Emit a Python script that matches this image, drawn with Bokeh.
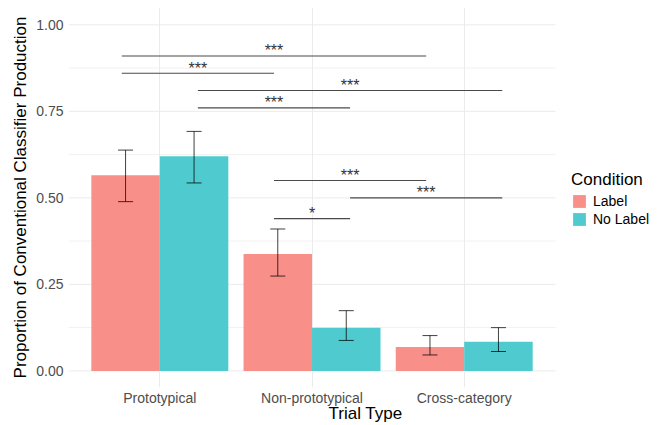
from bokeh.plotting import figure
from bokeh.models import (ColumnDataSource, Range1d, FixedTicker, Whisker, TeeHead,
                          Legend, LegendItem)
from bokeh.embed import file_html
from bokeh.resources import INLINE
from bokeh.core.properties import value

# ---- data ----
categories = ["Prototypical", "Non-prototypical", "Cross-category"]
conditions = ["Label", "No Label"]
label_mean = [0.565, 0.338, 0.069]
label_lower = [0.489, 0.274, 0.046]
label_upper = [0.638, 0.410, 0.102]
nolabel_mean = [0.620, 0.125, 0.084]
nolabel_lower = [0.543, 0.088, 0.056]
nolabel_upper = [0.692, 0.174, 0.125]
y_ticks = [0.0, 0.25, 0.5, 0.75, 1.0]
y_minor = [0.125, 0.375, 0.625, 0.875]
y_tick_labels = ["0.00", "0.25", "0.50", "0.75", "1.00"]

# significance comparisons: (category, condition) -> (category, condition)
sig_from_cat = ["Prototypical", "Prototypical", "Prototypical", "Prototypical",
                "Non-prototypical", "Non-prototypical", "Non-prototypical"]
sig_from_cond = ["Label", "Label", "No Label", "No Label", "Label", "No Label", "Label"]
sig_to_cat = ["Cross-category", "Non-prototypical", "Cross-category", "Non-prototypical",
              "Cross-category", "Cross-category", "Non-prototypical"]
sig_to_cond = ["Label", "Label", "No Label", "No Label", "Label", "No Label", "No Label"]
sig_y = [0.91, 0.86, 0.81, 0.76, 0.55, 0.50, 0.44]
sig_label = ["***", "***", "***", "***", "***", "***", "*"]

colors = {"Label": "#F98F89", "No Label": "#4FCBCF"}
bar_w = 0.45
sig_off = 0.25
x_lo, x_hi = 0.4, 3.6          # panel extent in category units
px_per_unit = 152.2            # horizontal scale of the panel
frame_left, frame_w = 68, 594  # frame reaches the right edge to host the legend

pos = [i + 1 for i in range(len(categories))]
cat_pos = dict(zip(categories, pos))
cond_off = {"Label": -1, "No Label": 1}

src_l = ColumnDataSource(dict(x=[p_ - bar_w / 2 for p_ in pos], top=label_mean,
                              lower=label_lower, upper=label_upper))
src_n = ColumnDataSource(dict(x=[p_ + bar_w / 2 for p_ in pos], top=nolabel_mean,
                              lower=nolabel_lower, upper=nolabel_upper))

p = figure(width=662, height=425, output_backend="svg", toolbar_location=None,
           x_range=Range1d(x_lo, x_lo + frame_w / px_per_unit),
           y_range=Range1d(-0.048, 1.05),
           min_border_left=frame_left, min_border_top=7, min_border_right=0,
           min_border_bottom=37)
p.outline_line_color = None
p.background_fill_color = "white"

# horizontal grid lines limited to the panel
p.segment(x0=x_lo, x1=x_hi, y0=y_minor, y1=y_minor, line_color="#F1F1F1",
          line_width=1, level="underlay")
p.segment(x0=x_lo, x1=x_hi, y0=y_ticks, y1=y_ticks, line_color="#EBEBEB",
          line_width=1, level="underlay")

r_l = p.vbar(x="x", top="top", bottom=0, width=bar_w, source=src_l,
             fill_color=colors["Label"], line_color=None)
r_n = p.vbar(x="x", top="top", bottom=0, width=bar_w, source=src_n,
             fill_color=colors["No Label"], line_color=None)

for src in (src_l, src_n):
    w = Whisker(source=src, base="x", upper="upper", lower="lower", level="overlay",
                line_color="black", line_alpha=0.75, line_width=1,
                upper_head=TeeHead(size=15, line_color="black", line_alpha=0.75, line_width=1),
                lower_head=TeeHead(size=15, line_color="black", line_alpha=0.75, line_width=1))
    p.add_layout(w)

# significance brackets
x0 = [cat_pos[c] + cond_off[d] * sig_off for c, d in zip(sig_from_cat, sig_from_cond)]
x1 = [cat_pos[c] + cond_off[d] * sig_off for c, d in zip(sig_to_cat, sig_to_cond)]
xm = [(a + b) / 2 for a, b in zip(x0, x1)]
sig_src = ColumnDataSource(dict(x0=x0, x1=x1, y=sig_y, xm=xm, lab=sig_label))
p.segment(x0="x0", y0="y", x1="x1", y1="y", source=sig_src,
          line_color="#4a4a4a", line_width=1.1)
p.text(x="xm", y="y", text="lab", source=sig_src, text_align="center",
       text_baseline="alphabetic", y_offset=-5, text_font_size="16px",
       text_font=value("Liberation Sans"), text_color="#333333")

# axes
p.xaxis.ticker = FixedTicker(ticks=pos)
p.xaxis.bounds = (x_lo, x_hi)
p.xaxis.major_label_overrides = {pp: c for pp, c in zip(pos, categories)}
p.yaxis.ticker = FixedTicker(ticks=y_ticks, minor_ticks=y_minor)
p.yaxis.major_label_overrides = {t: s for t, s in zip(y_ticks, y_tick_labels)}
for ax in (p.xaxis, p.yaxis):
    ax.axis_line_color = None
    ax.major_tick_line_color = None
    ax.minor_tick_line_color = None
    ax.major_tick_out = 0
    ax.major_tick_in = 0
    ax.minor_tick_out = 0
    ax.minor_tick_in = 0
    ax.major_label_text_font = "Liberation Sans"
    ax.major_label_text_font_size = "14px"
    ax.major_label_text_color = "#4D4D4D"
    ax.axis_label_text_font = "Liberation Sans"
    ax.axis_label_text_font_size = "17px"
    ax.axis_label_text_font_style = "normal"
    ax.axis_label_text_color = "black"
p.xaxis.axis_label = "Trial Type"
p.yaxis.axis_label = "Proportion of Conventional Classifier Production"
p.xaxis.major_label_standoff = 2
p.xaxis.axis_label_standoff = -5
p.yaxis.major_label_standoff = 5
p.yaxis.axis_label_standoff = 3

p.xgrid.grid_line_color = "#EBEBEB"
p.ygrid.grid_line_color = None

legend = Legend(items=[LegendItem(label="Label", renderers=[r_l]),
                       LegendItem(label="No Label", renderers=[r_n])],
                title="Condition", location=(503, 160),
                title_text_font="Liberation Sans", title_text_font_size="17px",
                title_text_font_style="normal", title_text_color="black",
                label_text_font="Liberation Sans", label_text_font_size="14px",
                label_text_color="black",
                glyph_width=16, glyph_height=16, label_standoff=6, spacing=2,
                border_line_color=None, background_fill_alpha=0, margin=0, padding=5,
                title_standoff=3)
p.add_layout(legend, "center")

open("out.html", "w").write(file_html(p, INLINE))
